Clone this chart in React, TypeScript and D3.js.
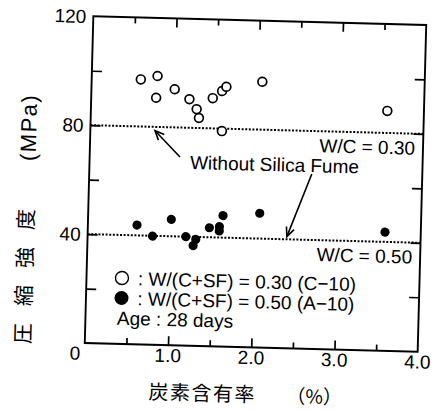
import React, { useEffect, useRef } from 'react';
import * as d3 from 'd3';

// open circles : W/(C+SF) = 0.30 (C-10)
const openCarbon = [0.59, 0.79, 0.78, 1.0, 1.18, 1.27, 1.3, 1.46, 1.57, 1.62, 1.58, 2.05, 3.56];
const openStrength = [97.3, 98.7, 90.7, 94.0, 90.5, 86.9, 83.7, 91.1, 93.8, 95.4, 79.1, 97.6, 88.1];
// filled circles : W/(C+SF) = 0.50 (A-10)
const filledCarbon = [0.59, 0.78, 1.0, 1.18, 1.3, 1.27, 1.46, 1.58, 1.58, 1.62, 2.06, 3.57];
const filledStrength = [43.8, 39.9, 46.2, 40.0, 39.1, 36.8, 43.5, 44.0, 42.4, 48.1, 49.3, 43.6];
// without silica fume
const refStrength = [80, 40];
const refLabels = ['W/C = 0.30', 'W/C = 0.50'];
const xTicks = [1, 2, 3, 4];
const yTicks = [40, 80, 120];
const legendLabels = [': W/(C+SF) = 0.30 (C\u221210)', ': W/(C+SF) = 0.50 (A\u221210)'];
const ageLabel = 'Age : 28 days';
const noteLabel = 'Without Silica Fume';
// arrows [carbon, strength], tail -> head
const arrowFrom = [[1.085, 69.2], [2.673, 64.2]];
const arrowTo = [[0.777, 78.6], [2.393, 41.0]];

const W = 437, H = 411;
const margin = { top: 20.6, right: 15, bottom: 63.6, left: 89 };
const tilt = 1.5; // the scan is slightly rotated
const latin = '"Liberation Sans", Arial, Helvetica, sans-serif';
const cjk = '"Noto Sans CJK JP", "Noto Sans CJK SC", sans-serif';

export default function App() {
    const ref = useRef(null);

    useEffect(() => {
        const svg = d3.select(ref.current);
        svg.selectAll('*').remove();

        const width = W - margin.left - margin.right;
        const height = H - margin.top - margin.bottom;

        const root = svg.append('g')
            .attr('transform', `rotate(${tilt}, 255.6, 184)`)
            .attr('fill', '#000');
        const g = root.append('g')
            .attr('transform', `translate(${margin.left},${margin.top})`);

        const x = d3.scaleLinear().domain([0, 4]).range([0, width]);
        const y = d3.scaleLinear().domain([0, 120]).range([height, 0]);

        // inward ticks
        const tickStyle = sel => {
            sel.select('.domain').remove();
            sel.selectAll('line').attr('stroke', '#000').attr('stroke-width', 1.7);
        };
        const major = [1, 2, 3];
        const minor = [0.5, 1.5, 2.5, 3.5];
        g.append('g').attr('transform', `translate(0,${height})`)
            .call(d3.axisBottom(x).tickValues(major).tickSize(-9).tickFormat(() => '')).call(tickStyle);
        g.append('g').attr('transform', `translate(0,${height})`)
            .call(d3.axisBottom(x).tickValues(minor).tickSize(-6).tickFormat(() => '')).call(tickStyle);
        g.append('g')
            .call(d3.axisTop(x).tickValues(major).tickSize(-9).tickFormat(() => '')).call(tickStyle);
        g.append('g')
            .call(d3.axisTop(x).tickValues(minor).tickSize(-6).tickFormat(() => '')).call(tickStyle);
        g.append('g')
            .call(d3.axisLeft(y).tickValues([20, 40, 60, 80, 100]).tickSize(-10).tickFormat(() => '')).call(tickStyle);
        g.append('g').attr('transform', `translate(${width},0)`)
            .call(d3.axisRight(y).tickValues([20, 40, 60, 80, 100]).tickSize(-10).tickFormat(() => '')).call(tickStyle);

        // frame
        g.append('rect')
            .attr('width', width).attr('height', height)
            .attr('fill', 'none').attr('stroke', '#000').attr('stroke-width', 1.9);

        // tick labels
        g.selectAll('.xl').data(xTicks).enter().append('text')
            .attr('x', d => x(d)).attr('y', height + 10).attr('dy', '0.36em')
            .attr('text-anchor', 'middle').attr('fill', '#000')
            .style('font-family', latin).style('font-size', '19px')
            .text(d => d3.format('.1f')(d));
        g.selectAll('.yl').data(yTicks).enter().append('text')
            .attr('x', -7).attr('y', d => y(d)).attr('dy', '0.36em')
            .attr('text-anchor', 'end').attr('fill', '#000')
            .style('font-family', latin).style('font-size', '19px')
            .text(d => d);
        g.append('text')
            .attr('x', -9.5).attr('y', height + 10).attr('dy', '0.36em')
            .attr('text-anchor', 'middle').attr('fill', '#000')
            .style('font-family', latin).style('font-size', '19px')
            .text('0');

        // reference lines (W/C without silica fume)
        g.selectAll('.ref').data(refStrength).enter().append('line')
            .attr('x1', x(0)).attr('x2', x(4))
            .attr('y1', d => y(d)).attr('y2', d => y(d))
            .attr('stroke', '#000').attr('stroke-width', 2)
            .attr('stroke-dasharray', '2,1.6');
        g.selectAll('.refl').data(refStrength).enter().append('text')
            .attr('x', x(4) - 8).attr('y', d => y(d) + 21)
            .attr('text-anchor', 'end').attr('fill', '#000')
            .style('font-family', latin).style('font-size', '19px')
            .text((d, i) => refLabels[i]);

        g.append('text')
            .attr('x', x(1.208)).attr('y', y(64.9)).attr('fill', '#000')
            .style('font-family', latin).style('font-size', '19px')
            .text(noteLabel);

        // arrows
        arrowFrom.forEach((f, i) => {
            const x1 = x(f[0]), y1 = y(f[1]);
            const x2 = x(arrowTo[i][0]), y2 = y(arrowTo[i][1]);
            const a = Math.atan2(y2 - y1, x2 - x1);
            const len = 10, spread = 0.42;
            g.append('line')
                .attr('x1', x1).attr('y1', y1).attr('x2', x2).attr('y2', y2)
                .attr('stroke', '#000').attr('stroke-width', 1.6);
            g.append('path')
                .attr('d', `M${x2 - len * Math.cos(a - spread)},${y2 - len * Math.sin(a - spread)}L${x2},${y2}L${x2 - len * Math.cos(a + spread)},${y2 - len * Math.sin(a + spread)}`)
                .attr('fill', 'none').attr('stroke', '#000').attr('stroke-width', 1.6);
        });

        // data
        g.selectAll('.open').data(openCarbon).enter().append('circle')
            .attr('cx', d => x(d)).attr('cy', (d, i) => y(openStrength[i]))
            .attr('r', 4.4).attr('fill', '#fff').attr('stroke', '#000').attr('stroke-width', 1.7);
        g.selectAll('.filled').data(filledCarbon).enter().append('circle')
            .attr('cx', d => x(d)).attr('cy', (d, i) => y(filledStrength[i]))
            .attr('r', 4.6).attr('fill', '#000');

        // legend
        const leg = root.append('g').attr('transform', 'translate(124.5,281.5)');
        leg.append('circle').attr('cx', 0).attr('cy', 0).attr('r', 6.5)
            .attr('fill', '#fff').attr('stroke', '#000').attr('stroke-width', 1.4);
        leg.append('circle').attr('cx', 0).attr('cy', 20).attr('r', 7).attr('fill', '#000');
        leg.selectAll('.lt').data(legendLabels).enter().append('text')
            .attr('x', 16).attr('y', (d, i) => i * 20).attr('dy', '0.36em').attr('fill', '#000')
            .style('font-family', latin).style('font-size', '19px')
            .text(d => d);
        leg.append('text')
            .attr('x', -4).attr('y', 40).attr('dy', '0.36em').attr('fill', '#000')
            .style('font-family', latin).style('font-size', '19px')
            .text(ageLabel);

        // axis titles
        root.append('text')
            .attr('transform', 'translate(27,350) rotate(-90)')
            .attr('dy', '0.36em').attr('fill', '#000')
            .style('font-family', cjk).style('font-size', '21px').style('letter-spacing', '17px')
            .text('圧縮強度');
        root.append('text')
            .attr('transform', 'translate(27,167) rotate(-90)')
            .attr('dy', '0.36em').attr('fill', '#000')
            .style('font-family', latin).style('font-size', '22px').style('letter-spacing', '1.5px')
            .text('(MPa)');

        const xt = root.append('text')
            .attr('x', 154).attr('y', 396).attr('dy', '0.36em').attr('fill', '#000');
        xt.append('tspan')
            .style('font-family', cjk).style('font-size', '20px').style('letter-spacing', '1.5px')
            .text('炭素含有率');
        xt.append('tspan')
            .attr('x', 292)
            .style('font-family', cjk).style('font-size', '19px')
            .text('（%）');
    }, []);

    return (
        <svg ref={ref} width={W} height={H}
            style={{ position: 'absolute', left: 0, top: 0, background: '#fff' }} />
    );
}
